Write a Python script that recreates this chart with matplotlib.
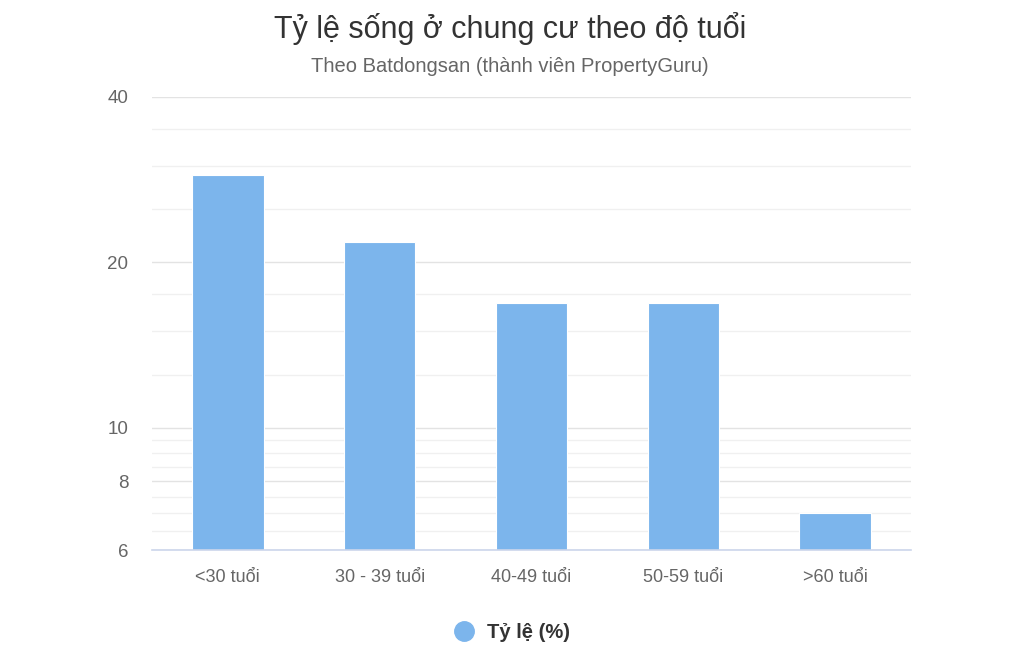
import matplotlib.pyplot as plt
from matplotlib.lines import Line2D
from matplotlib.ticker import FixedLocator, NullFormatter

# data
categories = ["<30 tuổi", "30 - 39 tuổi", "40-49 tuổi", "50-59 tuổi", ">60 tuổi"]
values = [28.8, 21.8, 16.9, 16.9, 7.0]
major_ticks = [6, 8, 10, 20, 40]
minor_ticks = [6.5, 7, 7.5, 8.5, 9, 9.5, 12.5, 15, 17.5, 25, 30, 35]

plt.rcParams["font.family"] = ["Liberation Sans", "DejaVu Sans"]

fig = plt.figure(figsize=(10.2, 6.54), dpi=100)
ax = fig.add_axes([0.149, 0.159, 0.744, 0.693])

x = range(len(categories))
ax.bar(x, values, width=0.47, color="#7cb5ec", edgecolor="white", linewidth=0.8, zorder=3)

ax.set_yscale("log")
ax.set_ylim(6, 40)
ax.set_xlim(-0.5, len(categories) - 0.5)
ax.yaxis.set_major_locator(FixedLocator(major_ticks))
ax.yaxis.set_minor_locator(FixedLocator(minor_ticks))
ax.set_yticklabels([str(t) for t in major_ticks])
ax.yaxis.set_minor_formatter(NullFormatter())
ax.grid(True, which="major", axis="y", color="#e3e3e3", linewidth=1, zorder=0)
ax.grid(True, which="minor", axis="y", color="#f0f0f0", linewidth=1, zorder=0)

ax.set_xticks(list(x))
ax.set_xticklabels(categories)
ax.tick_params(axis="x", length=0, pad=14, labelsize=13, labelcolor="#666666")
ax.tick_params(axis="y", which="both", length=0, pad=17, labelsize=13.5, labelcolor="#666666")

for side in ["top", "right", "left"]:
    ax.spines[side].set_visible(False)
ax.spines["bottom"].set_color("#ccd6eb")
ax.spines["bottom"].set_linewidth(1.2)
ax.spines["bottom"].set_zorder(4)

fig.text(0.5, 0.957, "Tỷ lệ sống ở chung cư theo độ tuổi", ha="center", va="center",
         fontsize=22, color="#333333")
fig.text(0.5, 0.898, "Theo Batdongsan (thành viên PropertyGuru)", ha="center", va="center",
         fontsize=14.5, color="#666666")

handle = Line2D([], [], marker="o", linestyle="none", markersize=14,
                markerfacecolor="#7cb5ec", markeredgecolor="#7cb5ec")
leg = fig.legend([handle], ["Tỷ lệ (%)"], loc="center", bbox_to_anchor=(0.497, 0.033),
                 frameon=False, handletextpad=0.1, prop={"size": 14.5, "weight": "bold"})
for t in leg.get_texts():
    t.set_color("#333333")

plt.savefig("out.png", dpi=100)
